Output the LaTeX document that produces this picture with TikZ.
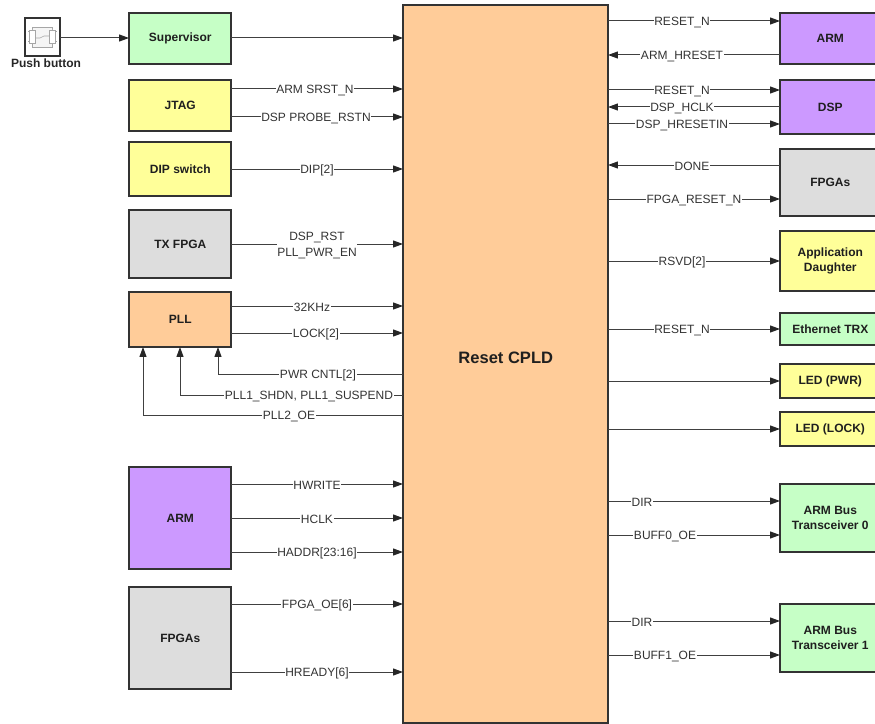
\documentclass[tikz,border=0pt]{standalone}
\usepackage{fontspec}
\setmainfont{Liberation Sans}
\usetikzlibrary{arrows.meta}
\definecolor{cgreen}{HTML}{C6FFC6}
\definecolor{cyellow}{HTML}{FFFF99}
\definecolor{cpurple}{HTML}{CC99FF}
\definecolor{cgray}{HTML}{DDDDDD}
\definecolor{corange}{HTML}{FFCC99}
\definecolor{cline}{HTML}{404040}
\tikzset{
  blockbox/.style={draw=black!80,line width=1.1pt,anchor=north west,inner sep=0pt,outer sep=0pt},
  blocktext/.style={inner sep=0pt,align=center,font=\fontsize{9}{11}\selectfont\bfseries,text=black!88,xshift=0.2pt},
  conn/.style={draw=cline,line width=0.75pt,-{Triangle[length=7.4pt,width=5.2pt,black!85]}},
  lbl/.style={fill=white,inner sep=0.6pt,yshift=-1.1pt,font=\fontsize{9}{11}\selectfont,text=black!80,align=center},
  icon/.style={draw=black!35,line width=0.45pt}
}
% #1 name, #2 x, #3 y top, #4 width, #5 height, #6 colour, #7 text
\newcommand{\blk}[7]{\node[blockbox,fill=#6,minimum width=#4*0.75pt,minimum height=#5*0.75pt] (#1) at (#2,#3) {}; \node[blocktext] (#1t) at (#1.center) {#7};}
\newcommand{\lr}[6]{\draw[conn] (#1.east |- 0,#3) -- (#2.west |- 0,#3); \node[lbl] (#5) at (#4,#3) {#6};}
\newcommand{\rl}[6]{\draw[conn] (#1.west |- 0,#3) -- (#2.east |- 0,#3); \node[lbl] (#5) at (#4,#3) {#6};}
\begin{document}
\begin{tikzpicture}[x=0.75pt,y=-0.75pt]
\useasboundingbox (0,0) rectangle (875,724);
\clip (0,0) rectangle (875,724);
\node[blockbox,fill=corange,minimum width=153.75pt,minimum height=538.5pt] (cpld) at (403,5) {};
\node[blocktext,font=\fontsize{12.4}{14}\selectfont\bfseries] (cpldt) at (505.5,358) {Reset CPLD};
% left
\node[blockbox,fill=white,minimum width=26.25pt,minimum height=28.5pt] (push) at (25,18) {};
\draw[icon,fill=black!4] (32,27) rectangle (52,47);
\draw[icon] (28,31) -- (35,31) (28,41) -- (35,41) (49,31) -- (57,31) (49,41) -- (57,41);
\draw[icon,fill=white] (29,30) rectangle (35,43) (49,30) rectangle (55,43);
\draw[icon] (35,38) -- (40,38) -- (44,36) -- (49,36);
\node[font=\fontsize{9}{10}\selectfont\bfseries,text=black!85,inner sep=0pt] (pushlbl) at (46,63) {Push button};
\blk{sup}{129}{13}{102}{51}{cgreen}{Supervisor}
\blk{jtag}{129}{80}{102}{51}{cyellow}{JTAG}
\blk{dip}{129}{142}{102}{54}{cyellow}{DIP switch}
\blk{tx}{129}{210}{102}{68}{cgray}{TX FPGA}
\blk{pll}{129}{292}{102}{55}{corange}{PLL}
\blk{arml}{129}{467}{102}{102}{cpurple}{ARM}
\blk{fpgal}{129}{587}{102}{102}{cgray}{FPGAs}
\draw[conn] (push.east |- 0,38) -- (sup.west |- 0,38);
\draw[conn] (sup.east |- 0,38) -- (cpld.west |- 0,38);
\lr{jtag}{cpld}{89}{315}{l1}{ARM SRST\_N}
\lr{jtag}{cpld}{117}{316}{l2}{DSP PROBE\_RSTN}
\lr{dip}{cpld}{169}{317}{l3}{DIP[2]}
\lr{tx}{cpld}{244}{317}{l4}{DSP\_RST\\[1pt]PLL\_PWR\_EN}
\lr{pll}{cpld}{306}{312}{l5}{32KHz}
\lr{pll}{cpld}{333}{316}{l6}{LOCK[2]}
\draw[conn] (cpld.west |- 0,374) -| (pll.south -| 218,0);
\node[lbl] (l7) at (318,374) {PWR CNTL[2]};
\draw[conn] (cpld.west |- 0,395) -| (pll.south -| 180,0);
\node[lbl] (l8) at (309,395) {PLL1\_SHDN, PLL1\_SUSPEND};
\draw[conn] (cpld.west |- 0,415) -| (pll.south -| 143,0);
\node[lbl] (l9) at (289,415) {PLL2\_OE};
\lr{arml}{cpld}{484}{317}{l10}{HWRITE}
\lr{arml}{cpld}{518}{317}{l11}{HCLK}
\lr{arml}{cpld}{552}{317}{l12}{HADDR[23:16]}
\lr{fpgal}{cpld}{604}{317}{l13}{FPGA\_OE[6]}
\lr{fpgal}{cpld}{672}{317}{l14}{HREADY[6]}
% right
\blk{armr}{780}{13}{100}{51}{cpurple}{ARM}
\blk{dsp}{780}{80}{100}{54}{cpurple}{DSP}
\blk{fpgar}{780}{149}{100}{67}{cgray}{FPGAs}
\blk{app}{780}{231}{100}{60}{cyellow}{Application\\Daughter}
\blk{eth}{780}{313}{100}{32}{cgreen}{Ethernet TRX}
\blk{ledp}{780}{364}{100}{34}{cyellow}{LED (PWR)}
\blk{ledl}{780}{412}{100}{34}{cyellow}{LED (LOCK)}
\blk{trza}{780}{484}{100}{68}{cgreen}{ARM Bus\\Transceiver 0}
\blk{trzb}{780}{604}{100}{68}{cgreen}{ARM Bus\\Transceiver 1}
\lr{cpld}{armr}{21}{682}{r1}{RESET\_N}
\rl{armr}{cpld}{55}{682}{r2}{ARM\_HRESET}
\lr{cpld}{dsp}{90}{682}{r3}{RESET\_N}
\rl{dsp}{cpld}{107}{682}{r4}{DSP\_HCLK}
\lr{cpld}{dsp}{124}{682}{r5}{DSP\_HRESETIN}
\rl{fpgar}{cpld}{165}{692}{r6}{DONE}
\lr{cpld}{fpgar}{199}{694}{r7}{FPGA\_RESET\_N}
\lr{cpld}{app}{261}{682}{r8}{RSVD[2]}
\lr{cpld}{eth}{329}{682}{r9}{RESET\_N}
\draw[conn] (cpld.east |- 0,381) -- (ledp.west |- 0,381);
\draw[conn] (cpld.east |- 0,429) -- (ledl.west |- 0,429);
\lr{cpld}{trza}{501}{642}{r10}{DIR}
\lr{cpld}{trza}{535}{665}{r11}{BUFF0\_OE}
\lr{cpld}{trzb}{621}{642}{r12}{DIR}
\lr{cpld}{trzb}{655}{665}{r13}{BUFF1\_OE}
\end{tikzpicture}
\end{document}
